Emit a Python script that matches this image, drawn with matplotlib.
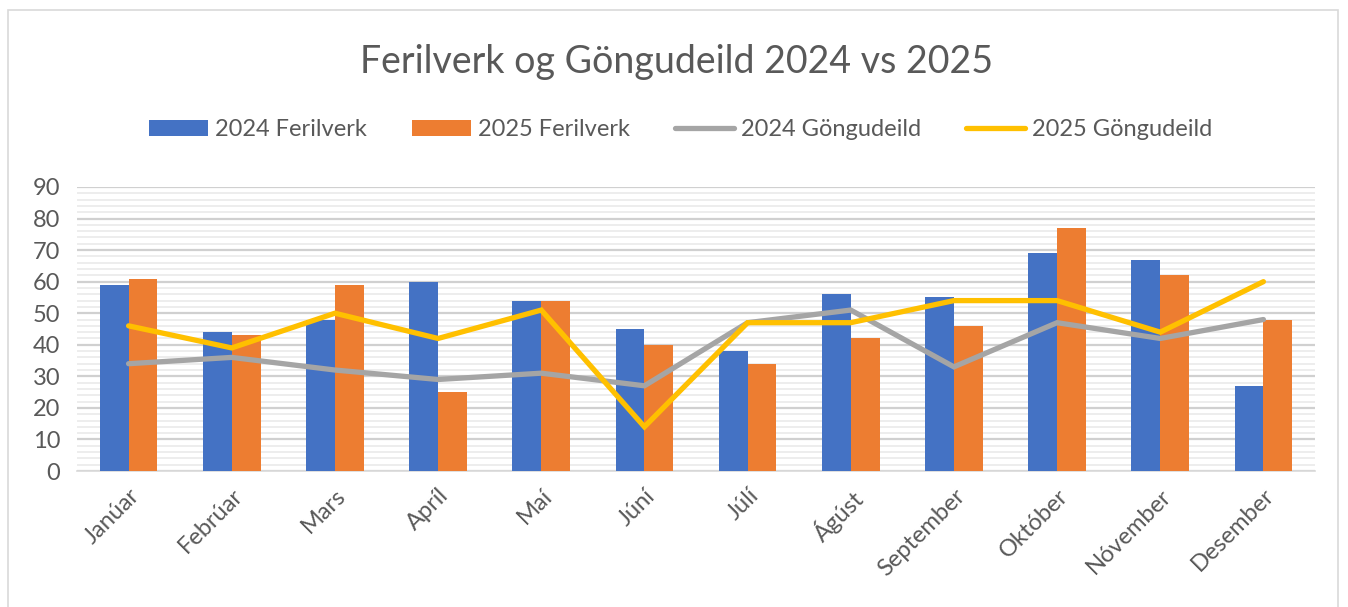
import numpy as np
import matplotlib.pyplot as plt
from matplotlib.ticker import MultipleLocator
from matplotlib.patches import Rectangle

months = ['Janúar', 'Febrúar', 'Mars', 'Apríl', 'Maí', 'Júní', 'Júlí',
          'Ágúst', 'September', 'Október', 'Nóvember', 'Desember']
ferilverk_2024 = [59, 44, 48, 60, 54, 45, 38, 56, 55, 69, 67, 27]
ferilverk_2025 = [61, 43, 59, 25, 54, 40, 34, 42, 46, 77, 62, 48]
gongudeild_2024 = [34, 36, 32, 29, 31, 27, 47, 51, 33, 47, 42, 48]
gongudeild_2025 = [46, 39, 50, 42, 51, 14, 47, 47, 54, 54, 44, 60]

plt.rcParams['font.family'] = ['Lato', 'DejaVu Sans']
txt = '#595959'

fig = plt.figure(figsize=(13.48, 6.07), dpi=100)
fig.patches.append(Rectangle((8/1348, -0.02), 1330/1348, 1.0 - 10/607 + 0.02,
                             transform=fig.transFigure, fill=False,
                             edgecolor='#D9D9D9', linewidth=1.2))
ax = fig.add_axes([77/1348, 1 - 471/607, (1315 - 77)/1348, (471 - 187)/607])

x = np.arange(len(months))
w = 0.28
b1 = ax.bar(x - w/2, ferilverk_2024, w, color='#4472C4', label='2024 Ferilverk', zorder=3)
b2 = ax.bar(x + w/2, ferilverk_2025, w, color='#ED7D31', label='2025 Ferilverk', zorder=3)
l1, = ax.plot(x, gongudeild_2024, color='#A5A5A5', lw=3.8, label='2024 Göngudeild',
              zorder=4, solid_capstyle='round', solid_joinstyle='miter')
l2, = ax.plot(x, gongudeild_2025, color='#FFC000', lw=3.8, label='2025 Göngudeild',
              zorder=5, solid_capstyle='round', solid_joinstyle='miter')

ax.set_xlim(-0.5, len(months) - 0.5)
ax.set_ylim(0, 90)
ax.yaxis.set_major_locator(MultipleLocator(10))
ax.yaxis.set_minor_locator(MultipleLocator(2))
ax.grid(axis='y', which='major', color='#D0D0D0', lw=1.6, zorder=0)
ax.grid(axis='y', which='minor', color='#EDEDED', lw=1.4, zorder=0)
for s in ['top', 'right', 'left']:
    ax.spines[s].set_visible(False)
ax.spines['bottom'].set_color('#D9D9D9')
ax.spines['bottom'].set_linewidth(1.2)

ax.set_xticks(x)
ax.set_xticklabels(months, rotation=45, ha='right', rotation_mode='anchor')
ax.tick_params(axis='both', which='both', length=0, labelsize=17, labelcolor=txt)
ax.tick_params(axis='x', pad=10)
ax.tick_params(axis='y', pad=12)

fig.text(677/1348, 1 - 62/607, 'Ferilverk og Göngudeild 2024 vs 2025',
         ha='center', va='center', fontsize=27, color=txt)
fig.legend([b1, b2, l1, l2], [b1.get_label(), b2.get_label(), l1.get_label(), l2.get_label()],
           loc='center', bbox_to_anchor=(681/1348, 1 - 130/607), ncol=4,
           frameon=False, fontsize=17, labelcolor=txt, handlelength=2.5,
           handleheight=0.65, handletextpad=0.3, columnspacing=1.9)

fig.savefig('out.png', dpi=100)
